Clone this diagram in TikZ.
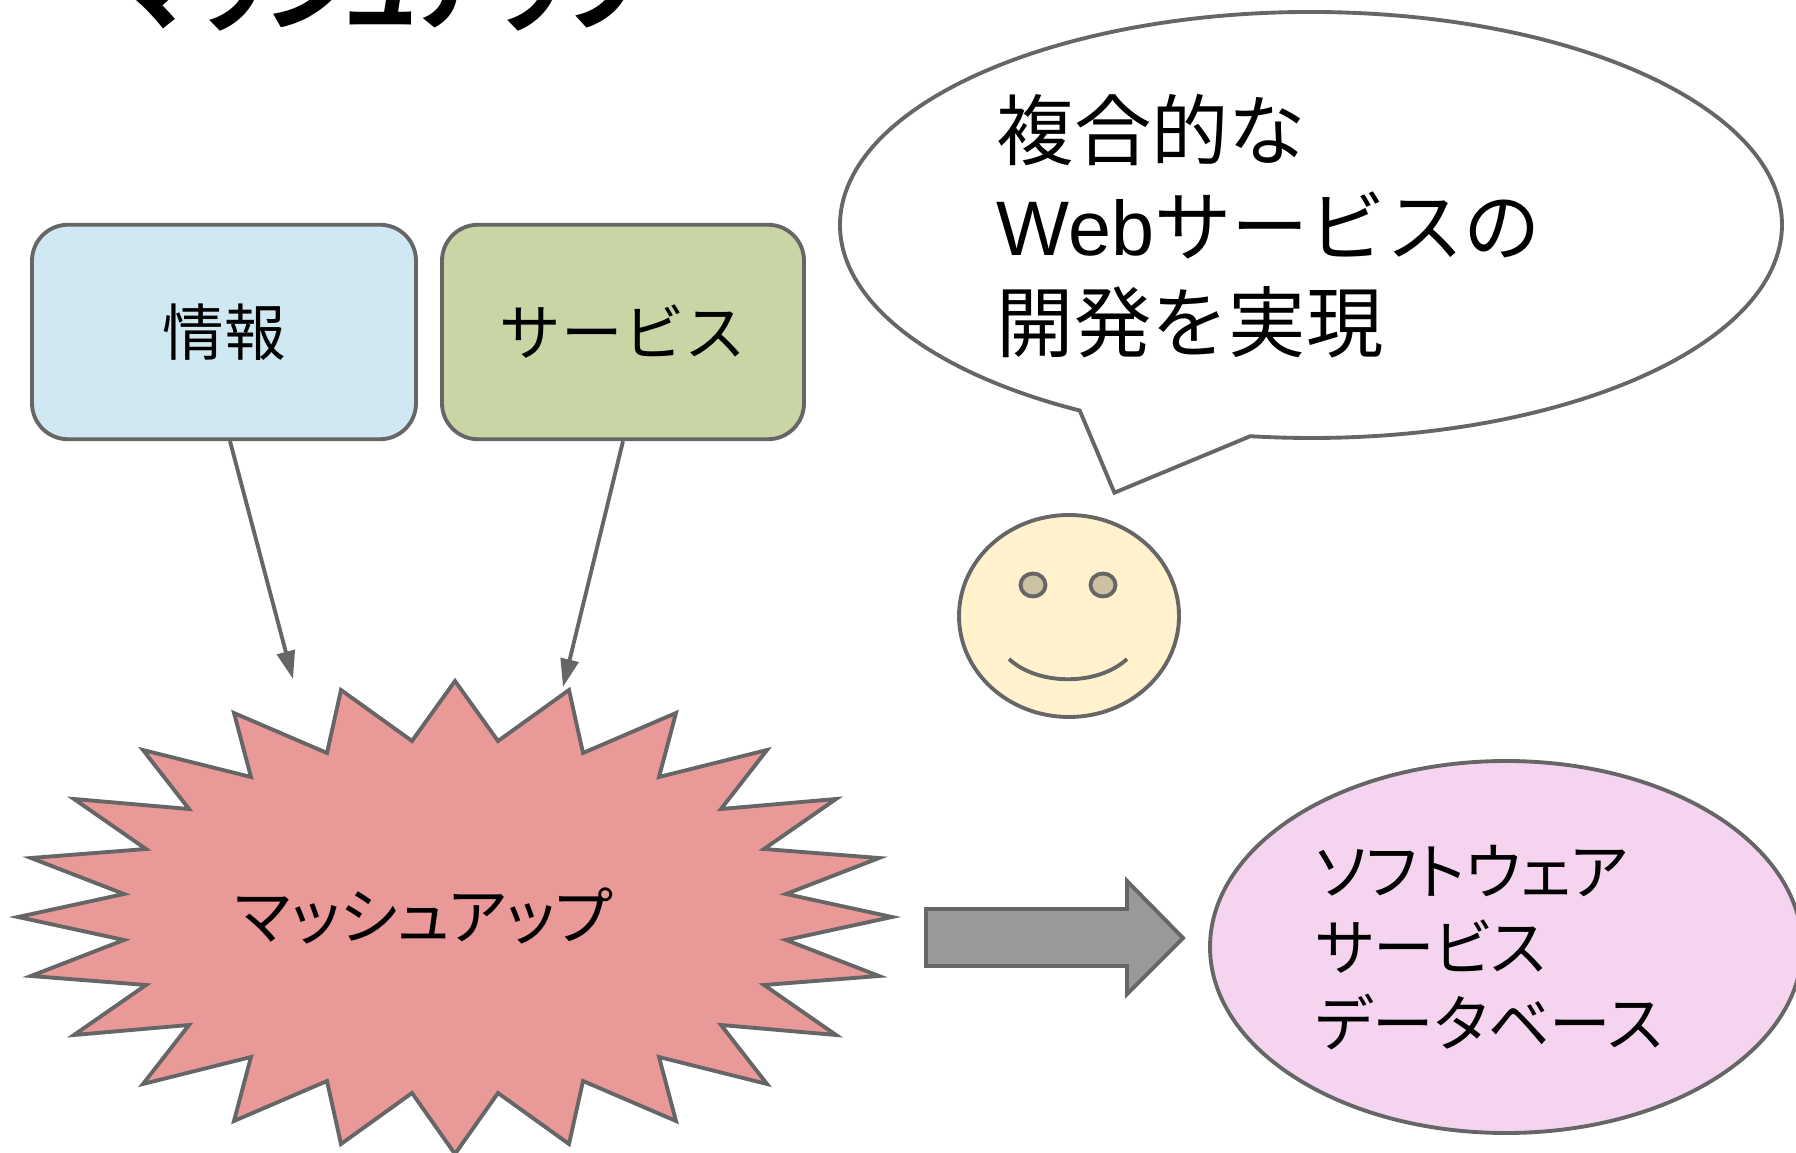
\documentclass[tikz,border=0pt]{standalone}
\usepackage{fontspec}
\setmainfont{Liberation Sans}
\newfontfamily\jafont{Noto Sans CJK JP}
\newfontfamily\jafontp[RawFeature=+palt]{Noto Sans CJK JP}
\usetikzlibrary{arrows.meta,shapes.geometric}
\definecolor{linegray}{HTML}{666666}
\tikzset{
	shape line/.style={draw=linegray,line width=1.1pt,line join=miter},
	infobox/.style={shape line,rectangle,rounded corners=0.36cm,minimum height=2.145cm,font=\fontsize{17.5}{20}\selectfont\jafont},
	link/.style={linegray,line width=1.1pt,-{Triangle[length=0.28cm,width=0.18cm]}},
	label/.style={align=left,inner sep=0pt,anchor=west,text=black}
}
\begin{document}
\begin{tikzpicture}
		\useasboundingbox (0,0) rectangle (17.96,11.52);
		\node[anchor=base west,inner sep=0pt] (title) at (1.16,11.29) {\fontsize{24}{28}\selectfont\jafontp\bfseries マッシュアップ};
		\node[infobox,fill={rgb,255:red,208;green,232;blue,241},minimum width=3.84cm] (info) at (2.24,8.20) {情報};
		\node[infobox,fill={rgb,255:red,201;green,213;blue,165},minimum width=3.62cm] (service) at (6.23,8.20) {サービス};
		\draw[shape line,fill={rgb,255:red,234;green,153;blue,153}] plot coordinates {(4.55,4.71) (4.98,4.11) (5.69,4.62) (5.83,3.99) (6.76,4.39) (6.59,3.75) (7.67,4.02) (7.21,3.43) (8.36,3.53) (7.64,3.03) (8.79,2.94) (7.86,2.58) (8.92,2.35) (7.86,2.12) (8.79,1.76) (7.64,1.67) (8.36,1.17) (7.21,1.27) (7.67,0.68) (6.59,0.95) (6.76,0.31) (5.83,0.71) (5.69,0.08) (4.98,0.59) (4.55,-0.02) (4.12,0.59) (3.41,0.08) (3.27,0.71) (2.34,0.31) (2.51,0.95) (1.43,0.68) (1.89,1.27) (0.74,1.17) (1.46,1.67) (0.31,1.76) (1.24,2.12) (0.18,2.35) (1.24,2.58) (0.31,2.94) (1.46,3.03) (0.74,3.53) (1.89,3.43) (1.43,4.02) (2.51,3.75) (2.34,4.39) (3.27,3.99) (3.41,4.62) (4.12,4.11)} -- cycle;
		\node[inner sep=0pt] (mashup) at (4.24,2.36) {\fontsize{17.7}{20}\selectfont\jafontp マッシュアップ};
		\coordinate (infotip) at (2.93,4.73);
		\coordinate (servicetip) at (5.63,4.65);
		\draw[link] ([xshift=0.06cm]info.south) -- (infotip);
		\draw[link] (service.south) -- (servicetip);
		\draw[shape line,fill={rgb,255:red,153;green,153;blue,153}] (9.26,2.43) -- (11.27,2.43) -- (11.27,2.71) -- (11.83,2.14) -- (11.27,1.58) -- (11.27,1.86) -- (9.26,1.86) -- cycle;
		\node[shape line,ellipse,fill={rgb,255:red,245;green,212;blue,240},minimum width=5.92cm,minimum height=3.72cm,inner sep=0pt] (result) at (15.06,2.05) {};
		\node[label,font=\fontsize{17.5}{21.6}\selectfont\jafontp] (resulttext) at (13.15,2.04) {ソフトウェア\\サービス\\データベース};
		\draw[shape line,fill=white] (12.503,7.158) arc[start angle=262.6,end angle=600.6,x radius=4.71,y radius=2.13] -- (11.144,6.593) -- cycle;
		\node[label,font=\fontsize{22}{27.3}\selectfont\jafont] (speech) at (9.96,9.26) {複合的な\\{\fontfamily{\rmdefault}\selectfont Web}サービスの\\開発を実現};
		\node[shape line,ellipse,fill={rgb,255:red,255;green,242;blue,204},minimum width=2.20cm,minimum height=2.02cm,inner sep=0pt] (face) at (10.69,5.36) {};
		\foreach \i in {10.33,11.03}
		{
			\draw[shape line,fill={rgb,255:red,204;green,193;blue,163}] (\i,5.67) ellipse (0.125 and 0.115);
		}
		\coordinate (mouthleft) at (10.09,4.93);
		\coordinate (mouthright) at (11.27,4.93);
		\draw[linegray,line width=1.1pt] (mouthleft) .. controls (10.38,4.66) and (10.98,4.66) .. (mouthright);
\end{tikzpicture}
\end{document}
